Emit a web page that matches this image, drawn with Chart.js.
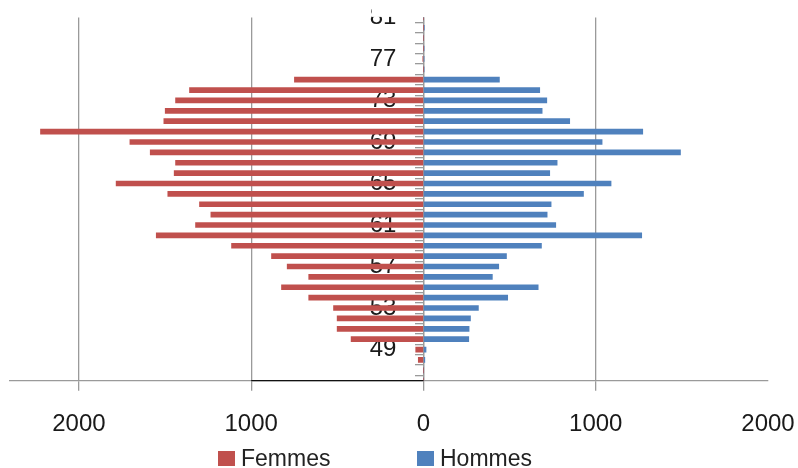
<!DOCTYPE html>
<html>
<head>
<meta charset="utf-8">
<script src="https://cdn.jsdelivr.net/npm/chart.js@4.4.1/dist/chart.umd.min.js"></script>
<style>
html, body { margin: 0; padding: 0; background: #ffffff; }
#wrap { position: relative; width: 798px; height: 468px; }
#chart { position: absolute; left: 0; top: 0; }
#legend { position: absolute; left: 0; top: 447px; width: 798px; height: 22px;
  font-family: 'Liberation Sans', Arial, sans-serif; font-size: 23px; color: #222; }
.item { position: absolute; top: 0; height: 22px; display: flex; align-items: center; }
.sw { width: 17px; height: 15px; margin-right: 6px; }
</style>
</head>
<body>
<div id="wrap">
  <canvas id="chart" width="798" height="468"></canvas>
  <div id="legend"></div>
</div>
<script>
// Ages (category axis, bottom to top)
const ages = [46,47,48,49,50,51,52,53,54,55,56,57,58,59,60,61,62,63,64,65,66,67,68,69,70,71,72,73,74,75,76,77,78,79,80,81];
// Femmes (drawn to the left, values as read)
const femmes = [0,0,30,45,420,501,501,522,666,824,666,791,882,1114,1551,1323,1234,1300,1484,1784,1447,1439,1586,1704,2223,1507,1499,1439,1358,749,0,3,0,0,0,0];
// Hommes (drawn to the right)
const hommes = [0,0,8,15,263,265,273,319,489,666,400,437,482,685,1267,768,718,741,929,1089,733,776,1492,1037,1273,849,689,716,675,441,3,3,3,0,5,0];
// Tick labels
const xTickValues = [-2000, -1000, 0, 1000, 2000];
const yLabelAges = [49, 53, 57, 61, 65, 69, 73, 77, 81];
const seriesNames = ['Femmes', 'Hommes'];
const seriesColors = ['#C0504D', '#4F81BD'];

const FONT = "'Liberation Sans', Arial, sans-serif";

const decor = {
  id: 'decor',
  afterDraw(chart) {
    const {ctx, chartArea, scales} = chart;
    ctx.save();
    // darker segment of the horizontal axis between -1000 and 0
    ctx.strokeStyle = '#111';
    ctx.lineWidth = 1.3;
    ctx.beginPath();
    ctx.moveTo(scales.x.getPixelForValue(-1000), chartArea.bottom);
    ctx.lineTo(scales.x.getPixelForValue(0), chartArea.bottom);
    ctx.stroke();
    // the top of the plot clips the labels
    ctx.fillStyle = '#fff';
    const x0 = scales.x.getPixelForValue(-300);
    ctx.fillRect(x0, 0, scales.x.getPixelForValue(0) - x0 - 2, chartArea.top - 0.5);
    ctx.restore();
  }
};

new Chart(document.getElementById('chart'), {
  type: 'bar',
  data: {
    labels: ages,
    datasets: [
      { label: seriesNames[0], data: femmes.map(v => -v), backgroundColor: seriesColors[0], barThickness: 5 },
      { label: seriesNames[1], data: hommes, backgroundColor: seriesColors[1], barThickness: 5 }
    ]
  },
  options: {
    indexAxis: 'y',
    responsive: false,
    animation: false,
    devicePixelRatio: 1,
    layout: { padding: { top: 3.6, left: 10, right: 30, bottom: 10.5 } },
    plugins: { legend: { display: false }, tooltip: { enabled: false } },
    scales: {
      x: {
        type: 'linear',
        stacked: true,
        min: -2400,
        max: 2000,
        afterBuildTicks: (scale) => { scale.ticks = xTickValues.map(v => ({ value: v })); },
        afterFit: (scale) => { scale.paddingRight = 0; },
        grid: {
          color: (c) => (c.tick && c.tick.value === 2000) ? 'rgba(0,0,0,0)' : '#9a9a9a',
          lineWidth: 1.3,
          tickLength: 10
        },
        border: { color: '#9a9a9a', width: 1.3 },
        ticks: {
          callback: (v) => String(Math.abs(v)),
          font: { family: FONT, size: 24 },
          color: '#1a1a1a',
          padding: 19,
          maxRotation: 0
        }
      },
      y: {
        type: 'category',
        stacked: true,
        reverse: true,
        offset: false,
        position: { x: 0 },
        grid: { drawOnChartArea: false, offset: true, tickLength: 8, color: '#9a9a9a', lineWidth: 1.3 },
        border: { color: '#9a9a9a', width: 1.3 },
        ticks: { autoSkip: false, display: false }
      },
      yLabels: {
        type: 'category',
        reverse: true,
        offset: false,
        position: { x: -157 },
        grid: { display: false },
        border: { display: false },
        ticks: {
          autoSkip: false,
          callback: function (v, i) {
            const a = ages[i];
            return yLabelAges.includes(a) ? String(a) : '';
          },
          font: { family: FONT, size: 24 },
          color: '#1a1a1a'
        }
      }
    }
  },
  plugins: [decor]
});

// legend
const lg = document.getElementById('legend');
const lgLeft = [218, 417];
seriesNames.forEach((name, i) => {
  const it = document.createElement('div');
  it.className = 'item';
  it.style.left = lgLeft[i] + 'px';
  const sw = document.createElement('span');
  sw.className = 'sw';
  sw.style.background = seriesColors[i];
  const tx = document.createElement('span');
  tx.textContent = name;
  it.appendChild(sw);
  it.appendChild(tx);
  lg.appendChild(it);
});
</script>
</body>
</html>
